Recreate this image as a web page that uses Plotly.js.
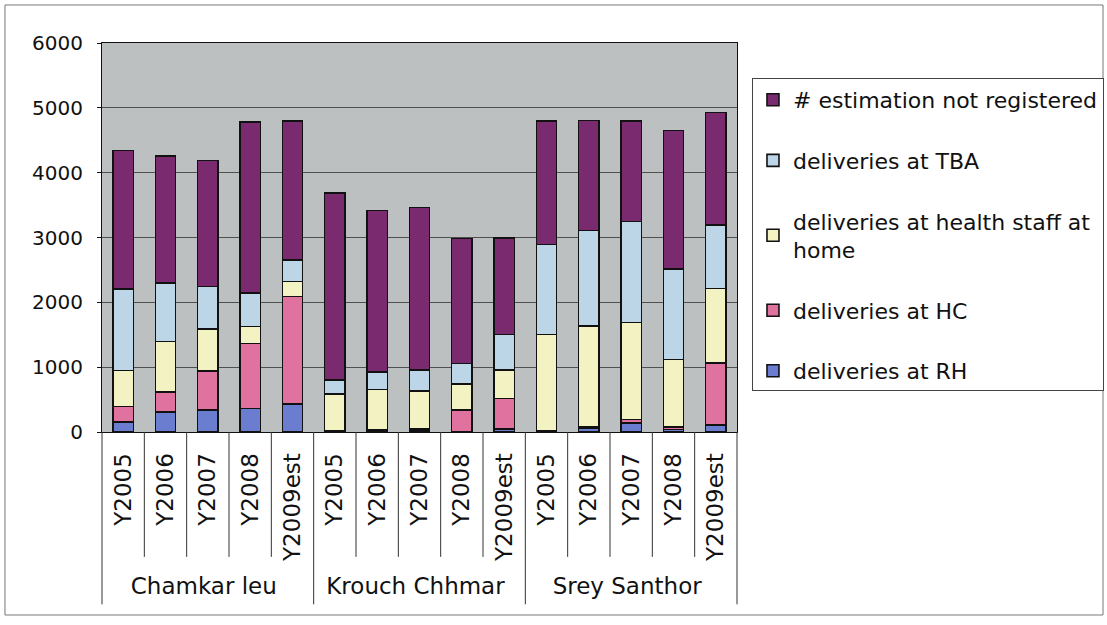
<!DOCTYPE html>
<html>
<head>
<meta charset="utf-8">
<script src="https://cdn.plot.ly/plotly-3.0.1.min.js"></script>
<style>html,body{margin:0;padding:0;background:#fff;}#chart{width:1107px;height:625px;}</style>
</head>
<body>
<div id="chart"></div>
<script>
const groups = ['Chamkar leu','Chamkar leu','Chamkar leu','Chamkar leu','Chamkar leu',
                'Krouch Chhmar','Krouch Chhmar','Krouch Chhmar','Krouch Chhmar','Krouch Chhmar',
                'Srey Santhor','Srey Santhor','Srey Santhor','Srey Santhor','Srey Santhor'];
const years = ['Y2005','Y2006','Y2007','Y2008','Y2009est',
               'Y2005','Y2006','Y2007','Y2008','Y2009est',
               'Y2005','Y2006','Y2007','Y2008','Y2009est'];

const deliveriesRH   = [155, 310, 335, 360, 430,   5, 15, 30, 10, 50,    15, 60, 140, 40, 105];
const deliveriesHC   = [240, 310, 610, 1005, 1660, 15, 20, 20, 325, 465, 10, 25, 50, 40, 960];
const deliveriesHome = [555, 775, 645, 260, 230,   570, 620, 580, 410, 440, 1480, 1550, 1500, 1040, 1150];
const deliveriesTBA  = [1260, 900, 655, 515, 335,  210, 270, 325, 310, 550, 1390, 1470, 1555, 1390, 980];
const notRegistered  = [2130, 1960, 1940, 2640, 2140, 2885, 2490, 2510, 1930, 1485, 1905, 1700, 1555, 2140, 1735];

const seriesNames = ['deliveries at RH','deliveries at HC','deliveries at health staff at<br>home','deliveries at TBA','# estimation not registered'];
const seriesValues = [deliveriesRH, deliveriesHC, deliveriesHome, deliveriesTBA, notRegistered];
const seriesColors = ['#6b7dce','#e0729f','#f2f2c2','#bcd6e8','#7a2a6e'];

const FONT = 'DejaVu Sans, Noto Sans, sans-serif';

const traces = seriesNames.map((n, i) => ({
  type: 'bar',
  name: n,
  x: [groups, years],
  y: seriesValues[i],
  legendgroup: 'g' + i,
  legendrank: 100 - i,
  marker: {color: seriesColors[i], line: {color: '#111', width: 1.6}},
  hoverinfo: 'y+name'
}));

const nCat = years.length;
const shapes = [];
for (let i = 0; i <= nCat; i++) {
  const isGroup = (i % 5 === 0);
  shapes.push({type: 'line', xref: 'paper', yref: 'paper',
    x0: i / nCat, x1: i / nCat, y0: 0, y1: isGroup ? -0.443 : -0.321,
    line: {color: '#333', width: 1}});
}
shapes.push({type: 'rect', xref: 'paper', yref: 'paper',
  x0: -0.1528, x1: 1.5764, y0: -0.4704, y1: 1.0977,
  line: {color: '#777', width: 1}});

const layout = {
  width: 1107, height: 625,
  margin: {l: 102, r: 370, t: 43, b: 193, autoexpand: false},
  paper_bgcolor: '#ffffff',
  plot_bgcolor: '#bcc0c0',
  barmode: 'stack',
  bargap: 0.52,
  font: {family: FONT, size: 20, color: '#111'},
  showlegend: true,
  legend: {
    xref: 'container', yref: 'container',
    x: 0.6793, xanchor: 'left', y: 0.8752, yanchor: 'top',
    traceorder: 'grouped',
    tracegroupgap: 29,
    bgcolor: '#ffffff', bordercolor: '#444', borderwidth: 1,
    font: {family: FONT, size: 22, color: '#111'},
    itemclick: false
  },
  xaxis: {
    type: 'multicategory',
    tickangle: -90,
    showdividers: false,
    showline: true, linecolor: '#111', linewidth: 1, mirror: true,
    ticks: '',
    ticklabelstandoff: 11,
    tickfont: {family: FONT, size: 23, color: '#111'},
    showgrid: false,
    automargin: false
  },
  yaxis: {
    range: [0, 6000],
    dtick: 1000,
    showgrid: true, gridcolor: '#505050', gridwidth: 1,
    zeroline: false,
    showline: true, linecolor: '#111', linewidth: 1, mirror: true,
    ticks: 'outside', ticklen: 4, tickcolor: '#111',
    ticklabelstandoff: 10,
    tickfont: {family: FONT, size: 20, color: '#111'},
    automargin: false
  },
  shapes: shapes
};

Plotly.newPlot('chart', traces, layout, {displayModeBar: false, staticPlot: true});
</script>
</body>
</html>
